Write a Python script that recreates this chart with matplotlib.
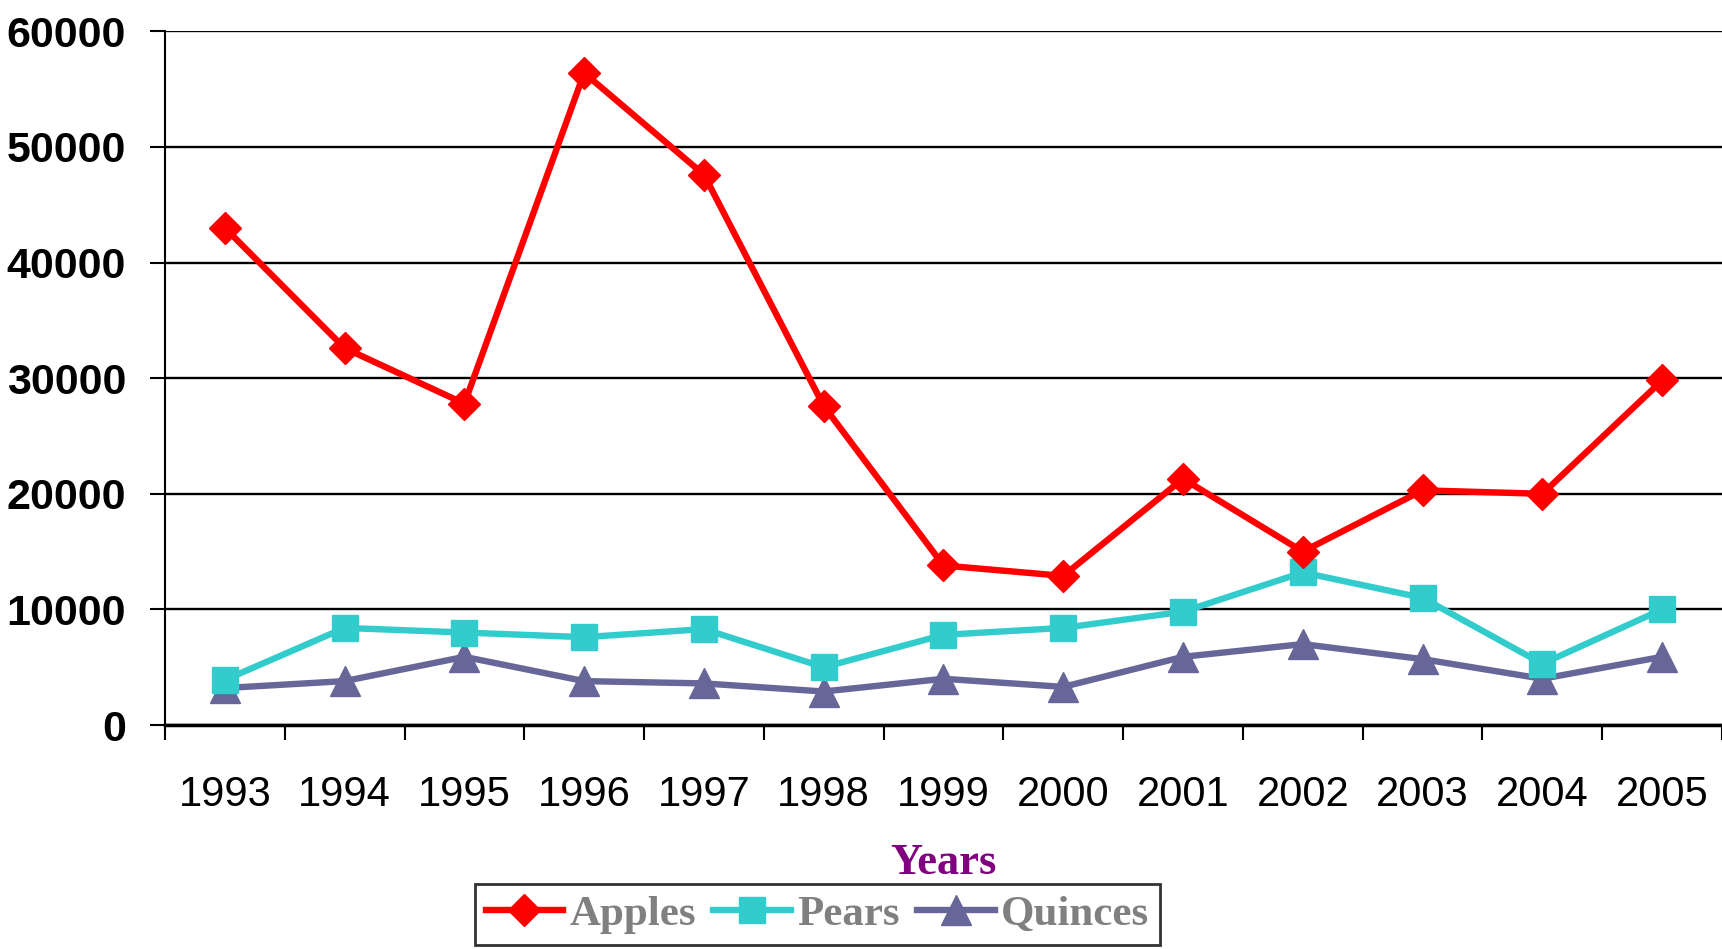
import matplotlib
matplotlib.use("Agg")
import matplotlib.pyplot as plt
import numpy as np

years = ["1993", "1994", "1995", "1996", "1997", "1998", "1999",
         "2000", "2001", "2002", "2003", "2004", "2005"]
apples = [43000, 32600, 27800, 56400, 47600, 27600, 13800,
          12900, 21300, 15000, 20300, 20000, 29800]
pears = [3900, 8400, 8000, 7600, 8300, 5000, 7800,
         8400, 9800, 13200, 11000, 5300, 10000]
quinces = [3200, 3800, 5900, 3800, 3600, 2900, 4000,
           3300, 5900, 7000, 5700, 4000, 5900]
yticks = [0, 10000, 20000, 30000, 40000, 50000, 60000]

sans = ["Liberation Sans", "DejaVu Sans"]
serif = ["Liberation Serif", "DejaVu Serif"]

fig = plt.figure(figsize=(17.22, 9.49), dpi=100)
ax = fig.add_axes([0.0958, 0.236, 0.9042, 0.731])

x = np.arange(len(years))
ax.plot(x, apples, color="#FF0000", lw=4.6, marker="D", ms=16,
        label="Apples", zorder=5)
ax.plot(x, pears, color="#33CCCC", lw=4.6, marker="s", ms=19,
        label="Pears", zorder=4)
ax.plot(x, quinces, color="#666699", lw=4.6, marker="^", ms=21,
        label="Quinces", zorder=3)

ax.set_xlim(-0.5, len(years) - 0.5)
ax.set_ylim(0, 60000)
ax.set_yticks(yticks)
ax.set_yticklabels([str(v) for v in yticks], family=sans,
                   fontweight="bold", fontsize=31)
ax.set_xticks(x)
ax.set_xticklabels(years, family=sans, fontsize=30)
ax.set_xticks(np.arange(-0.5, len(years)), minor=True)
ax.tick_params(axis="x", which="major", length=0, pad=36)
ax.tick_params(axis="x", which="minor", length=11, width=1.5)
ax.tick_params(axis="y", length=11, width=1.5, pad=17)

ax.grid(axis="y", color="black", lw=1.7)
ax.set_axisbelow(True)
for s in ["top", "right"]:
    ax.spines[s].set_visible(False)
ax.spines["left"].set_linewidth(1.5)
ax.spines["bottom"].set_linewidth(2.5)

ax.set_xlabel("Years", family=serif, fontweight="bold", fontsize=32,
              color="#800080", labelpad=20)

leg = fig.legend(loc="upper left", bbox_to_anchor=(0.2758, 0.0685),
                 ncol=3, frameon=True, fancybox=False, handlelength=1.8,
                 columnspacing=0.4, handletextpad=0.15, borderpad=0.25,
                 borderaxespad=0,
                 prop={"family": serif, "weight": "bold", "size": 31})
leg.get_frame().set_edgecolor("black")
leg.get_frame().set_linewidth(2)
for t in leg.get_texts():
    t.set_color("#808080")

fig.savefig("out.png", dpi=100)
